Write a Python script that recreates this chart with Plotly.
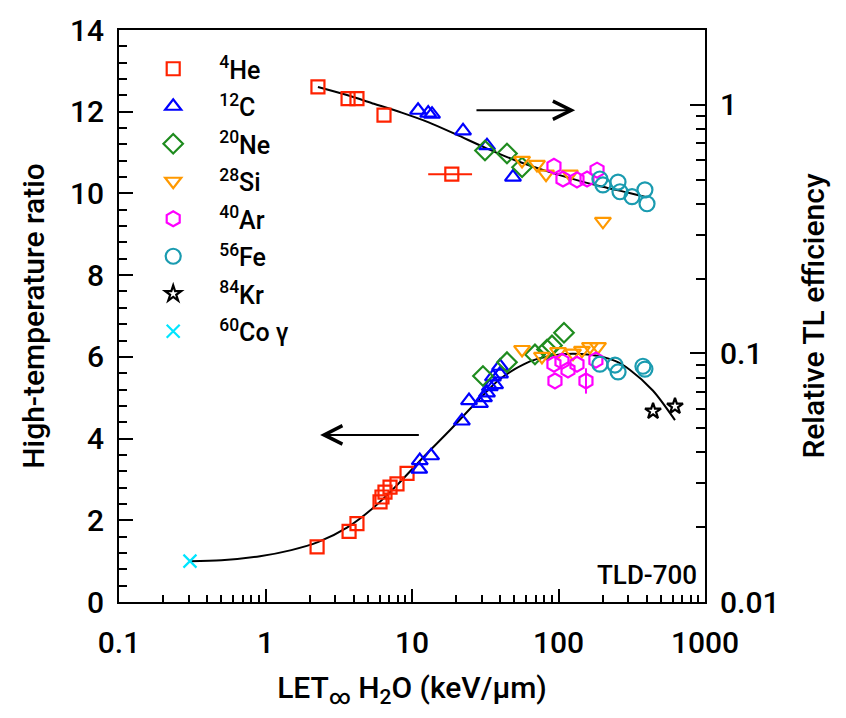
import numpy as np
import plotly.graph_objects as go

# ---------------- data ----------------
# Upper group: relative TL efficiency (right log axis)
he_eff_x = [2.28, 3.66, 4.21, 6.44, 18.7]
he_eff_y = [1.18, 1.06, 1.06, 0.909, 0.526]
he_eff_xerr_plus = [0, 0, 0, 0, 7.0]
he_eff_xerr_minus = [0, 0, 0, 0, 5.8]
c_eff_x = [11.0, 12.9, 13.7, 22.3, 32.5, 48.9]
c_eff_y = [0.951, 0.926, 0.917, 0.786, 0.685, 0.512]
ne_eff_x = [31.5, 44.5, 56.4]
ne_eff_y = [0.655, 0.637, 0.561]
si_eff_x = [56.4, 71.3, 82.2, 119.7, 201.0]
si_eff_y = [0.598, 0.576, 0.526, 0.526, 0.340]
ar_eff_x = [93.1, 107.3, 133.7, 156.6, 183.3]
ar_eff_y = [0.566, 0.503, 0.499, 0.503, 0.546]
fe_eff_x = [191.7, 201.0, 254.8, 262.8, 317.5, 389.0, 402.0]
fe_eff_y = [0.503, 0.476, 0.489, 0.447, 0.427, 0.455, 0.400]
eff_curve_x = [2.28, 3.5, 5.5, 8.5, 13.0, 20.0, 32.0, 50.0, 80.0, 130.0, 200.0, 300.0, 400.0]
eff_curve_y = [1.18, 1.10, 1.01, 0.93, 0.85, 0.76, 0.67, 0.60, 0.545, 0.50, 0.468, 0.443, 0.425]

# Lower group: high-temperature ratio (left linear axis)
co_htr_x = [0.305]
co_htr_y = [1.0]
he_htr_x = [2.25, 3.72, 4.21, 6.05, 6.24, 6.54, 7.08, 7.90, 9.25]
he_htr_y = [1.35, 1.73, 1.92, 2.45, 2.57, 2.69, 2.81, 2.89, 3.15]
c_htr_x = [11.2, 11.3, 13.5, 21.9, 24.5, 29.1, 31.0, 32.5, 34.0, 36.9, 35.7, 39.9, 39.9]
c_htr_y = [3.25, 3.46, 3.58, 4.43, 4.93, 4.86, 5.00, 5.12, 5.27, 5.32, 5.51, 5.58, 5.77]
ne_htr_x = [30.5, 44.5, 69.1, 83.5, 90.3, 109.0]
ne_htr_y = [5.53, 5.87, 6.06, 6.18, 6.28, 6.59]
si_htr_x = [56.4, 77.1, 99.3, 125.6, 144.6, 164.0, 186.0]
si_htr_y = [6.18, 6.01, 6.13, 6.09, 6.16, 6.25, 6.25]
ar_htr_x = [93.1, 94.6, 105.6, 116.1, 133.7, 154.0, 180.0]
ar_htr_y = [5.82, 5.41, 5.89, 5.68, 5.82, 5.41, 5.92]
ar_htr_yerr = [0, 0, 0, 0, 0, 0.31, 0]
fe_htr_x = [191.7, 243.0, 255.0, 377.0, 389.0]
fe_htr_y = [5.82, 5.80, 5.63, 5.77, 5.70]
kr_htr_x = [442.0, 624.0]
kr_htr_y = [4.67, 4.79]
htr_curve_x = [0.305, 0.5, 0.917, 1.5, 2.3, 3.6, 5.42, 8.0, 12.0, 18.2, 25.7, 39.9, 63.9,
               102.0, 164.0, 243.0, 308.0, 442.0, 624.0]
htr_curve_y = [1.0, 1.02, 1.12, 1.27, 1.47, 1.82, 2.30, 2.88, 3.55, 4.21, 4.78, 5.46, 5.89,
               6.06, 6.05, 5.90, 5.68, 5.17, 4.45]

x_tickvals = [0.1, 1, 10, 100, 1000]
x_ticktext = ["0.1", "1", "10", "100", "1000"]
x_minorvals = [m * d for d in (0.1, 1, 10, 100) for m in range(2, 10)]
y_tickvals = [0, 2, 4, 6, 8, 10, 12, 14]
y2_tickvals = [0.01, 0.1, 1]
y2_ticktext = ["0.01", "0.1", "1"]
y2_minorvals = [m * d for d in (0.01, 0.1) for m in range(2, 10)] + [2.0]

FONT = "Roboto"

series = [
    # name, color, symbol, size, upper x, upper y, lower x, lower y
    ("<sup>4</sup>He", "#ff2200", "square-open", 13, he_eff_x, he_eff_y, he_htr_x, he_htr_y),
    ("<sup>12</sup>C", "#0000ff", "triangle-up-open", 14, c_eff_x, c_eff_y, c_htr_x, c_htr_y),
    ("<sup>20</sup>Ne", "#1f8c1f", "diamond-open", 15, ne_eff_x, ne_eff_y, ne_htr_x, ne_htr_y),
    ("<sup>28</sup>Si", "#ff9900", "triangle-down-open", 14, si_eff_x, si_eff_y, si_htr_x, si_htr_y),
    ("<sup>40</sup>Ar", "#ff00ff", "hexagon-open", 15, ar_eff_x, ar_eff_y, ar_htr_x, ar_htr_y),
    ("<sup>56</sup>Fe", "#1a9bb0", "circle-open", 15, fe_eff_x, fe_eff_y, fe_htr_x, fe_htr_y),
    ("<sup>84</sup>Kr", "#000000", "star-open", 12, None, None, kr_htr_x, kr_htr_y),
    ("<sup>60</sup>Co γ", "#00e5ff", "x-thin-open", 13, None, None, co_htr_x, co_htr_y),
]

fig = go.Figure()

# fitted curves
fig.add_trace(go.Scatter(x=eff_curve_x, y=eff_curve_y, yaxis="y2", mode="lines",
                         line=dict(color="black", width=2, shape="spline", smoothing=0.8),
                         showlegend=False, hoverinfo="skip"))
fig.add_trace(go.Scatter(x=htr_curve_x, y=htr_curve_y, yaxis="y", mode="lines",
                         line=dict(color="black", width=2, shape="spline", smoothing=0.8),
                         showlegend=False, hoverinfo="skip"))

for i, (name, color, sym, size, ux, uy, lx, ly) in enumerate(series):
    mk = dict(symbol=sym, size=size, color=color, line=dict(color=color, width=2.2))
    grp = "g%d" % i
    shown = False
    if ux is not None:
        kw = {}
        if name.endswith("He"):
            kw["error_x"] = dict(type="data", symmetric=False, array=he_eff_xerr_plus,
                                 arrayminus=he_eff_xerr_minus, color=color,
                                 thickness=2, width=0)
        fig.add_trace(go.Scatter(x=ux, y=uy, yaxis="y2", mode="markers", name=name,
                                 marker=mk, legendgroup=grp, showlegend=True, **kw))
        shown = True
    kw = {}
    if name.endswith("Ar"):
        kw["error_y"] = dict(type="data", array=ar_htr_yerr, color=color,
                             thickness=2, width=0)
    fig.add_trace(go.Scatter(x=lx, y=ly, yaxis="y", mode="markers", name=name,
                             marker=mk, legendgroup=grp, showlegend=not shown, **kw))

tickfont = dict(family=FONT, size=30, color="black", weight=500)
fig.update_layout(
    width=846, height=718,
    margin=dict(l=119, r=141, t=20, b=116),
    paper_bgcolor="white", plot_bgcolor="white",
    font=dict(family=FONT, color="black"),
    xaxis=dict(type="log", range=[-1, 3], tickvals=x_tickvals, ticktext=x_ticktext,
               ticks="inside", ticklen=13, tickwidth=2, tickcolor="black",
               showline=True, linecolor="black", linewidth=2, mirror=True,
               showgrid=False, zeroline=False, tickfont=tickfont, ticklabelstandoff=13,
               minor=dict(tickvals=x_minorvals, ticks="inside", ticklen=7, tickwidth=1.5,
                          tickcolor="black", showgrid=False),
               title=dict(text="LET<sub>∞</sub> H<sub>2</sub>O (keV/μm)",
                          font=dict(family=FONT, size=30, weight=500), standoff=18)),
    yaxis=dict(range=[0, 14], tickvals=y_tickvals, ticks="inside", ticklen=14,
               tickwidth=2, tickcolor="black", showline=True, linecolor="black",
               linewidth=2, showgrid=False, zeroline=False, tickfont=tickfont,
               ticklabelstandoff=7,
               minor=dict(dtick=0.4, ticks="inside", ticklen=8, tickwidth=1.5,
                          tickcolor="black", showgrid=False),
               title=dict(text="High-temperature ratio",
                          font=dict(family=FONT, size=30, weight=500), standoff=16)),
    yaxis2=dict(type="log", range=[-2, np.log10(2.0)], overlaying="y", side="right",
                tickvals=y2_tickvals, ticktext=y2_ticktext, ticks="inside", ticklen=15,
                tickwidth=2, tickcolor="black", showline=True, linecolor="black",
                linewidth=2, showgrid=False, zeroline=False, tickfont=tickfont,
                ticklabelstandoff=7,
                minor=dict(tickvals=y2_minorvals, ticks="inside", ticklen=9, tickwidth=1.5,
                           tickcolor="black", showgrid=False),
                title=dict(text="Relative TL efficiency",
                           font=dict(family=FONT, size=30, weight=500), standoff=24)),
    legend=dict(x=0.014, y=0.972, xanchor="left", yanchor="top",
                bgcolor="rgba(0,0,0,0)", font=dict(family=FONT, size=25, weight=500),
                tracegroupgap=2, itemwidth=82),
    showlegend=True,
)

# arrows
fig.add_annotation(x=np.log10(130), y=np.log10(0.951), ax=np.log10(26.9), ay=np.log10(0.951),
                   xref="x", yref="y2", axref="x", ayref="y2", showarrow=True,
                   arrowhead=5, arrowsize=1.8, arrowwidth=2, arrowcolor="black", text="")
fig.add_annotation(x=np.log10(2.36), y=4.09, ax=np.log10(11.4), ay=4.09,
                   xref="x", yref="y", axref="x", ayref="y", showarrow=True,
                   arrowhead=5, arrowsize=1.8, arrowwidth=2, arrowcolor="black", text="")
fig.add_annotation(x=0.99, y=0.048, xref="paper", yref="paper", xanchor="right",
                   yanchor="middle", showarrow=False, text="TLD-700",
                   font=dict(family=FONT, size=26, color="black", weight=500))

fig.write_html("out.html")
